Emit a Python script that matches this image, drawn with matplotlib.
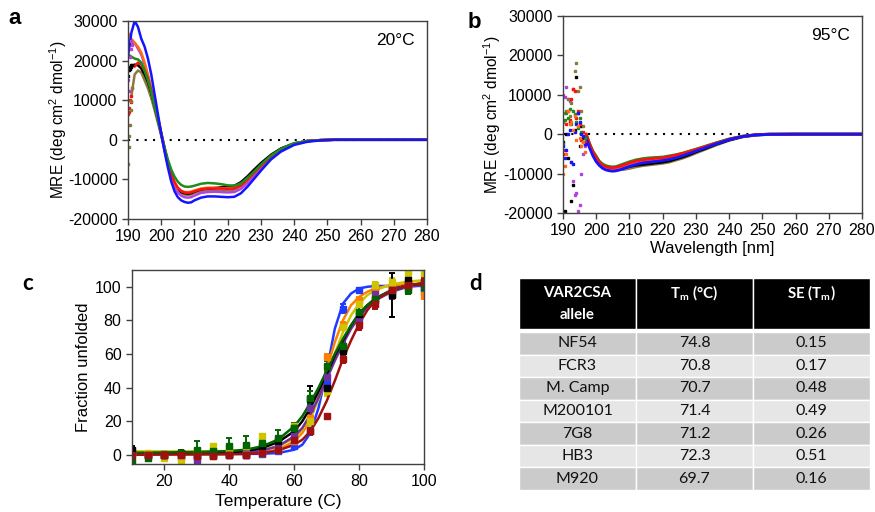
from matplotlib import pyplot as plt
from matplotlib.patches import Rectangle
import numpy as np

plt.rcParams['font.family'] = ['Liberation Sans', 'DejaVu Sans']
plt.rcParams['axes.unicode_minus'] = False

# ---- panel a : CD spectra at 20C ----
a_wl = [190, 191, 192, 193, 194, 195, 196, 197, 198, 199, 200, 201, 202, 203, 204, 205, 206, 207, 208, 209,
        210, 212, 214, 216, 218, 220, 222, 224, 226, 228, 230, 233, 236, 240, 244, 248, 252, 260, 270, 280]
a_blue = [21000, 27000, 30000, 28500, 25500, 23500, 20500, 16500, 11500, 6500, 1500, -3000, -7000, -10500, -13000, -14500, -15300, -15700, -15900, -15800,
          -15300, -14600, -14300, -14300, -14400, -14500, -14400, -13500, -11800, -9800, -7800, -5000, -3000, -1300, -500, -150, 0, 0, 0, 0]
a_green = [21500, 21000, 20500, 20300, 19500, 17500, 15000, 12000, 8500, 5000, 1500, -2000, -5000, -7500, -9300, -10600, -11400, -11800, -11900, -11800,
           -11600, -11100, -10900, -11000, -11200, -11500, -11600, -11000, -9600, -8000, -6300, -4000, -2300, -900, -300, -100, 0, 0, 0, 0]
a_red = [np.nan, np.nan, 18500, 19500, 19000, 17500, 15500, 12500, 9000, 5500, 1800, -2000, -5500, -8500, -10700, -12100, -12900, -13300, -13400, -13300,
         -13000, -12500, -12300, -12300, -12300, -12400, -12300, -11500, -10000, -8300, -6600, -4300, -2500, -1000, -300, -80, 0, 0, 0, 0]
a_orange = [27000, 25500, 24500, 23500, 22000, 19500, 16500, 13000, 9300, 5700, 1800, -2200, -5800, -8800, -11000, -12300, -12900, -13200, -13200, -13100,
            -12800, -12300, -12100, -12100, -12200, -12300, -12200, -11400, -10000, -8300, -6600, -4300, -2500, -1000, -300, -80, 0, 0, 0, 0]
a_purple = [np.nan, 24000, 24500, 23000, 21500, 19000, 16000, 12500, 8800, 5200, 1500, -2500, -6200, -9400, -11800, -13300, -14100, -14500, -14600, -14500,
            -14100, -13400, -13200, -13100, -13200, -13300, -13200, -12400, -10900, -9000, -7200, -4700, -2800, -1100, -350, -100, 0, 0, 0, 0]
a_black = [np.nan, 18500, 19000, 18800, 18000, 16500, 14500, 11800, 8500, 5000, 1500, -2200, -5800, -8800, -11000, -12500, -13200, -13500, -13600, -13500,
           -13100, -12500, -12300, -12200, -12000, -11800, -11600, -10700, -9200, -7500, -5900, -3800, -2200, -900, -300, -80, 0, 0, 0, 0]
a_brown = [np.nan, 11000, 16500, 17500, 17000, 15000, 13000, 10500, 7500, 4300, 1000, -2500, -6000, -9000, -11300, -12700, -13400, -13800, -13900, -13800,
           -13400, -12900, -12700, -12700, -12800, -12800, -12600, -11700, -10200, -8400, -6700, -4400, -2600, -1000, -300, -80, 0, 0, 0, 0]
# scattered points at the start of the scan
a_noise_wl = [190.0, 190.2, 190.4, 190.6, 190.8, 191.0, 191.3]
a_noise_red = [6500, 8000, 7000, 10000, 11000, 9500, 13000]
a_noise_brown = [-6100, -1700, 1000, 3800, 7500, 9700, 13000]
a_noise_purple = [15100, 12400, 17600, 21000, 23000, 25000, 24000]
a_noise_black = [16000, 17500, 18500, 18000, 19000, 18500, 19000]

# ---- panel b : CD spectra at 95C ----
b_wl = [197, 198, 199, 200, 201, 202, 203, 204, 205, 206, 207, 208, 210, 212, 214, 216, 218, 220, 222, 224,
        226, 228, 230, 233, 236, 240, 244, 248, 252, 260, 270, 280]
b_blue = [-1000, -3500, -5500, -7000, -8000, -8700, -9100, -9300, -9400, -9300, -9100, -8800, -8200, -7700, -7300, -7100, -6900, -6700, -6400, -6000,
          -5500, -4900, -4300, -3400, -2500, -1400, -600, -200, -50, 0, 0, 0]
b_red = [0, -2500, -4500, -6000, -7200, -7900, -8300, -8500, -8500, -8400, -8200, -7900, -7300, -6800, -6500, -6300, -6100, -6000, -5700, -5300,
         -4900, -4400, -3900, -3100, -2300, -1300, -550, -150, 0, 0, 0, 0]
b_green = [0, -2300, -4300, -5800, -6900, -7600, -8000, -8200, -8300, -8200, -7900, -7600, -7000, -6500, -6200, -6000, -5900, -5800, -5500, -5200,
           -4800, -4300, -3800, -3000, -2200, -1200, -500, -150, 0, 0, 0, 0]
b_black = [-500, -3000, -5000, -6500, -7600, -8300, -8600, -8800, -8900, -8800, -8700, -8600, -8200, -7900, -7700, -7500, -7300, -7100, -6800, -6300,
           -5800, -5200, -4500, -3600, -2600, -1500, -650, -200, -50, 0, 0, 0]
b_brown = [-2000, -3000, -4300, -5500, -7000, -8000, -8500, -8700, -8900, -9000, -9000, -9000, -8700, -8300, -8000, -7800, -7600, -7400, -7100, -6600,
           -6100, -5500, -4800, -3800, -2800, -1600, -700, -250, -80, 0, 0, 0]
b_purple = [-500, -2800, -4800, -6300, -7500, -8200, -8600, -8700, -8800, -8700, -8500, -8200, -7600, -7100, -6800, -6600, -6400, -6200, -5900, -5500,
            -5000, -4500, -4000, -3200, -2400, -1300, -550, -150, 0, 0, 0, 0]
b_orange = [-300, -2600, -4600, -6100, -7300, -8000, -8400, -8600, -8600, -8500, -8300, -8000, -7400, -6900, -6600, -6400, -6200, -6100, -5800, -5400,
            -4900, -4400, -3900, -3100, -2300, -1300, -550, -150, 0, 0, 0, 0]
b_noise_wl = [190, 190.5, 191, 191.5, 192, 192.5, 193, 193.5, 194, 194.5, 195, 195.5, 196, 196.5]
b_noise_purple = [10000, 9500, 12000, 9000, 8500, -7000, -12000, -15500, -15000, -19500, -18000, -10000, -5000, -3000]
b_noise_black = [-2000, -19500, 0, -6000, 3000, -17000, -13000, 1000, 14500, 5500, -3000, 2000, -1000, -2500]
b_noise_brown = [3000, 5500, 6000, 9000, 4500, 8000, 11500, 16000, 18000, 11000, 12000, 6000, 2000, -1000]
b_noise_red = [-5000, -4000, 2500, 6000, 3500, 9000, 11500, 11000, 4000, 6000, 2500, -1500, 500, -2000]
b_noise_green = [-2500, 3500, 5500, 4000, 6500, 2500, 6000, 5000, 3000, 1500, 4000, 500, -2000, -1000]
b_noise_blue = [-3000, -6000, -4000, 0, 1000, -7000, -7500, 500, 2500, 5500, 3000, 0, -500, -2500]
b_noise_orange = [-10000, -8000, -5000, 6000, 2500, 3000, 1000, 4500, -1500, 2000, -1000, -3000, -2000, -4500]

# ---- panel c : thermal melts ----
temps = [10, 15, 20, 25, 30, 35, 40, 45, 50, 55, 60, 65, 70, 75, 80, 85, 90, 95, 100]
c_blue = [1, 0, 0, -1.5, -1, 1, 0.5, 1, 0.5, 2, 5, 14, 42, 87, 98, 100, 100, 102, 97]
c_orange = [1, 0, 0, 0, 0, -1, 0.5, 0.5, 1, 3, 8, 22, 58, 77, 92, 99, 99, 102, 95]
c_yellow = [2, 1, -2, -3, 2, 5, 4, 5, 11, 5, 17, 20, 38, 76, 90, 101, 103, 108, 108]
c_black = [3, 0, 0, 1, 0, 0, 0, 0, 5, 8, 16, 33, 40, 62, 84, 92, 95, 104, 103]
c_green = [-4, -2, 0, 1, 3, 2, 5, 6, 7, 10, 16, 34, 53, 65, 85, 93, 98, 98, 100]
c_purple = [1, 0, 0, 0, -3, 0, 0, 0, 2, 5, 11, 28, 46, 64, 80, 96, 96, 100, 100]
c_red = [0, 0, 0, 0, -1, -1, 0, 0, 1, 3, 9, 14, 23, 57, 77, 90, 98, 101, 103]
err_blue = [1.5, 1, 1, 1.5, 1.5, 1, 1, 1, 1, 1, 1.5, 1.5, 3, 2.5, 1.5, 1.5, 1.5, 1.5, 1.5]
err_orange = [1, 1, 1, 1, 1, 1, 1, 1, 1, 1, 1.5, 2, 2, 2, 2, 2, 2, 2, 2]
err_yellow = [1.5, 1.5, 1.5, 1.5, 1.5, 1.5, 1.5, 1.5, 1.5, 1.5, 2, 3, 3, 2, 2, 2, 2, 2, 2]
err_black = [2, 1, 1, 1, 2, 1.5, 1.5, 2, 2, 2, 3, 8, 4, 3, 8, 4, 13, 3, 3]
err_green = [2, 2, 2, 2, 5, 4, 5, 5, 5, 5, 3, 4, 3, 3, 4, 3, 3, 2, 2]
err_purple = [1, 1, 1, 1, 2, 1, 1, 1, 1, 1, 2, 3, 3, 3, 3, 3, 3, 2, 2]
err_red = [1, 1.5, 1, 1, 1.5, 1.5, 1, 1, 1, 1.5, 2, 2, 1.5, 2.5, 2.5, 3, 3, 2, 2]
# fitted curves
fit_t = [10, 30, 40, 45, 50, 55, 60, 62.5, 65, 67.5, 70, 72.5, 75, 77.5, 80, 82.5, 85, 90, 95, 100]
fit_blue = [0.5, 0.5, 0.5, 0.5, 0.6, 1, 3, 6, 13, 28, 50, 75, 90, 96, 99, 100, 100.5, 100.5, 100.5, 100.5]
fit_orange = [0.3, 0.3, 0.5, 0.8, 1.5, 3, 8, 13, 21, 35, 51, 67, 80, 89, 94, 97, 99, 101, 101.5, 102]
fit_yellow = [2, 2, 2.2, 2.5, 3, 5, 10, 15, 22, 33, 46, 60, 73, 83, 90, 95, 98, 101.5, 103, 104]
fit_black = [0.5, 0.8, 1.5, 2.2, 4, 7.5, 14, 20, 28, 38, 48, 59, 68, 77, 84, 89, 93, 98, 101, 102]
fit_green = [1.2, 1.6, 2.2, 3, 5, 9, 17, 23, 31, 40, 50, 60, 69, 77, 84, 89, 93, 98, 101, 102]
fit_purple = [0.5, 0.7, 1, 1.5, 2.5, 5, 11, 16, 24, 34, 45, 56, 66, 75, 82, 88, 92, 97, 100, 101]
fit_red = [0, 0.2, 0.3, 0.5, 1, 2.5, 6, 9, 14, 22, 32, 44, 57, 68, 78, 86, 92, 98, 101, 102]

# ---- panel d : table ----
alleles = ['NF54', 'FCR3', 'M. Camp', 'M200101', '7G8', 'HB3', 'M920']
tm_vals = ['74.8', '70.8', '70.7', '71.4', '71.2', '72.3', '69.7']
se_vals = ['0.15', '0.17', '0.48', '0.49', '0.26', '0.51', '0.16']

sc = dict(blue='#1414ff', green='#1e8c1e', red='#ff1010', orange='#ff6a1a', purple='#b044e0', black='#000000', brown='#8c7a3c')
mc = dict(blue='#1e3cff', orange='#ff8000', yellow='#cfc400', black='#000000', green='#006400', purple='#7030a0', red='#a01010')

fig = plt.figure(figsize=(8.75, 5.12), dpi=100)


def style(ax):
    for s in ax.spines.values():
        s.set_color('#404040')
        s.set_linewidth(1)
    ax.tick_params(direction='out', length=4, width=1, labelsize=11.5, color='#404040')


ylab = 'MRE (deg cm$^\\mathregular{2}$ dmol$^\\mathregular{-1}$)'

# panel a
ax = fig.add_axes([0.1463, 0.5723, 0.3417, 0.3867])
ax.plot([190, 280], [0, 0], ls=(0, (1, 3)), color='black', lw=1.5)
for name, ys in [('brown', a_brown), ('black', a_black), ('purple', a_purple), ('orange', a_orange),
                 ('red', a_red), ('green', a_green), ('blue', a_blue)]:
    ax.plot(a_wl, ys, color=sc[name], lw=1.8)
for name, ys in [('red', a_noise_red), ('brown', a_noise_brown), ('purple', a_noise_purple), ('black', a_noise_black)]:
    ax.plot(a_noise_wl, ys, 's', color=sc[name], ms=1.8, ls='none')
ax.set_xlim(190, 280)
ax.set_ylim(-20000, 30000)
ax.set_xticks(range(190, 281, 10))
ax.set_yticks(range(-20000, 30001, 10000))
ax.set_ylabel(ylab, fontsize=11.2)
ax.yaxis.set_label_coords(-0.197, 0.5)
ax.text(0.96, 0.9, '20°C', transform=ax.transAxes, ha='right', va='center', fontsize=12.5)
style(ax)

# panel b
ax = fig.add_axes([0.6434, 0.584, 0.3417, 0.3848])
ax.plot([190, 280], [0, 0], ls=(0, (1, 3)), color='black', lw=1.5)
for name, ys in [('brown', b_brown), ('black', b_black), ('purple', b_purple), ('orange', b_orange),
                 ('green', b_green), ('red', b_red), ('blue', b_blue)]:
    ax.plot(b_wl, ys, color=sc[name], lw=2)
for name, ys in [('purple', b_noise_purple), ('black', b_noise_black), ('brown', b_noise_brown), ('red', b_noise_red),
                 ('green', b_noise_green), ('blue', b_noise_blue), ('orange', b_noise_orange)]:
    ax.plot(b_noise_wl, ys, 's', color=sc[name], ms=1.8, ls='none')
ax.set_xlim(190, 280)
ax.set_ylim(-20000, 30000)
ax.set_xticks(range(190, 281, 10))
ax.set_yticks(range(-20000, 30001, 10000))
ax.set_ylabel(ylab, fontsize=11.2)
ax.yaxis.set_label_coords(-0.2, 0.5)
ax.set_xlabel('Wavelength [nm]', fontsize=12, labelpad=2)
ax.text(0.96, 0.9, '95°C', transform=ax.transAxes, ha='right', va='center', fontsize=12.5)
style(ax)

# panel c
ax = fig.add_axes([0.1509, 0.09375, 0.3337, 0.3789])
series = [('blue', c_blue, err_blue, fit_blue), ('orange', c_orange, err_orange, fit_orange),
          ('yellow', c_yellow, err_yellow, fit_yellow), ('purple', c_purple, err_purple, fit_purple),
          ('black', c_black, err_black, fit_black), ('green', c_green, err_green, fit_green),
          ('red', c_red, err_red, fit_red)]
for name, ys, es, fs in series:
    ax.errorbar(temps, ys, yerr=es, fmt='s', color=mc[name], ms=3.8, capsize=2.5, elinewidth=1.4, capthick=1.4)
for name, ys, es, fs in series:
    ax.plot(fit_t, fs, color=mc[name], lw=1.8)
ax.set_xlim(10, 100)
ax.set_ylim(-5.5, 110)
ax.set_xticks(range(20, 101, 20))
ax.set_yticks(range(0, 101, 20))
ax.set_xlabel('Temperature (C)', fontsize=12.5, labelpad=3)
ax.set_ylabel('Fraction unfolded', fontsize=12)
ax.yaxis.set_label_coords(-0.14, 0.5)
style(ax)

# panel d
ax = fig.add_axes([0.5931, 0.043, 0.4011, 0.414])
ax.set_xlim(0, 351)
ax.set_ylim(212, 0)
ax.axis('off')
tf = ['Lato', 'DejaVu Sans']
cw = 117
headers = [['VAR2CSA', 'allele'], ['T$_\\mathregular{m}$ (°C)'], ['SE (T$_\\mathregular{m}$)']]
for j, h in enumerate(headers):
    ax.add_patch(Rectangle((j * cw, 0), cw, 51, facecolor='black', edgecolor='white', lw=1))
    for k, line in enumerate(h):
        ax.text(j * cw + cw / 2, 15 + 22 * k, line, ha='center', va='center', color='white', fontsize=10.8,
                fontweight='bold', family=tf)
rh = 158 / 7
for i in range(7):
    y0 = 54 + i * rh
    fc = '#cbcbcb' if i % 2 == 0 else '#e6e6e6'
    for j, v in enumerate([alleles[i], tm_vals[i], se_vals[i]]):
        ax.add_patch(Rectangle((j * cw, y0), cw, rh, facecolor=fc, edgecolor='white', lw=1))
        ax.text(j * cw + cw / 2, y0 + rh / 2, v, ha='center', va='center', fontsize=11.5, family=tf, color='#111111')

fig.text(15 / 875, 1 - 18 / 512, 'a', fontsize=16, fontweight='bold', ha='center', va='center')
fig.text(474 / 875, 1 - 22 / 512, 'b', fontsize=16, fontweight='bold', ha='center', va='center')
fig.text(28 / 875, 1 - 283 / 512, 'c', fontsize=16, fontweight='bold', ha='center', va='center', family=tf)
fig.text(476 / 875, 1 - 283 / 512, 'd', fontsize=16, fontweight='bold', ha='center', va='center', family=tf)

fig.savefig('out.png', dpi=100)
